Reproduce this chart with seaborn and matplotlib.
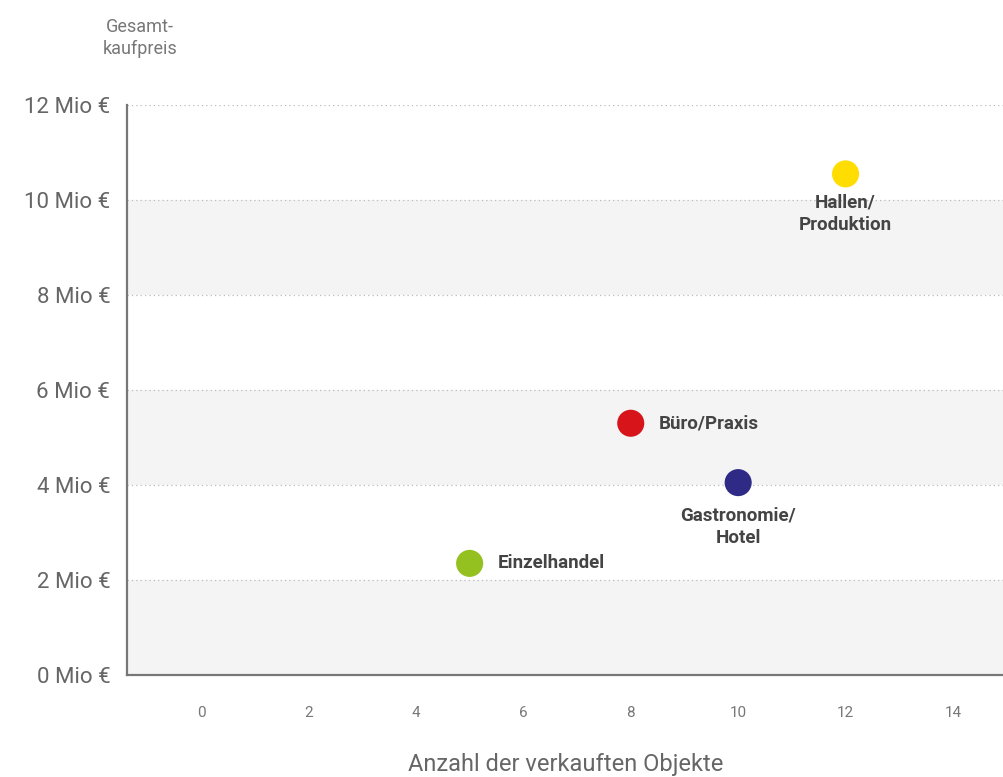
import pandas as pd
import matplotlib.pyplot as plt
import seaborn as sns

# data
categories = ['Hallen/\nProduktion', 'Büro/Praxis', 'Gastronomie/\nHotel', 'Einzelhandel']
anzahl = [12, 8, 10, 5]
preis = [10.55, 5.3, 4.05, 2.35]  # Mio €
colors = ['#FFDD00', '#D7141A', '#2E2A85', '#94C11F']

df = pd.DataFrame({'Kategorie': categories, 'Anzahl': anzahl, 'Preis': preis})

sns.set_style('white')
plt.rcParams['font.family'] = ['Roboto', 'DejaVu Sans']

fig = plt.figure(figsize=(10.04, 7.77), dpi=100)
ax = fig.add_axes([127 / 1004, 102 / 777, 1 - 127 / 1004, 570 / 777])

# alternating bands
for lo in [0, 4, 8]:
    ax.axhspan(lo, lo + 2, color='#F4F4F4', zorder=0, lw=0)
for y in [2, 4, 6, 8, 10, 12]:
    ax.axhline(y, color='#BBBBBB', lw=0.9, ls=(0, (1, 2.5)), zorder=1)

sns.scatterplot(data=df, x='Anzahl', y='Preis', hue='Kategorie', palette=colors,
                s=380, edgecolor='none', legend=False, ax=ax, zorder=3)

# point labels
lab = dict(fontsize=13.5, fontweight='bold', color='#444444')
ax.annotate(categories[0], (anzahl[0], preis[0]), xytext=(0, -14), textcoords='offset points',
            ha='center', va='top', linespacing=1.35, **lab)
ax.annotate(categories[1], (anzahl[1], preis[1]), xytext=(20, 0), textcoords='offset points',
            ha='left', va='center', **lab)
ax.annotate(categories[2], (anzahl[2], preis[2]), xytext=(0, -17), textcoords='offset points',
            ha='center', va='top', linespacing=1.35, **lab)
ax.annotate(categories[3], (anzahl[3], preis[3]), xytext=(20, 0), textcoords='offset points',
            ha='left', va='center', **lab)

ax.set_xlim(-1.38, 14.95)
ax.set_ylim(0, 12)
ax.set_xticks(range(0, 15, 2))
ax.set_yticks(range(0, 13, 2))
ax.set_yticklabels([f'{v} Mio €' for v in range(0, 13, 2)])
ax.tick_params(axis='x', length=0, pad=22, labelsize=11, labelcolor='#777777')
ax.tick_params(axis='y', length=6, width=0.8, color='#BBBBBB', pad=6, labelsize=16, labelcolor='#666666')

for s in ['top', 'right']:
    ax.spines[s].set_visible(False)
for s in ['left', 'bottom']:
    ax.spines[s].set_color('#777777')
    ax.spines[s].set_linewidth(1.6)

ax.set_xlabel('Anzahl der verkauften Objekte', fontsize=17, color='#666666', labelpad=24)
ax.set_ylabel('')
fig.text(140 / 1004, 1 - 38 / 777, 'Gesamt-\nkaufpreis', ha='center', va='center',
         fontsize=13, color='#777777', linespacing=1.3)

plt.savefig('out.png', dpi=100)
